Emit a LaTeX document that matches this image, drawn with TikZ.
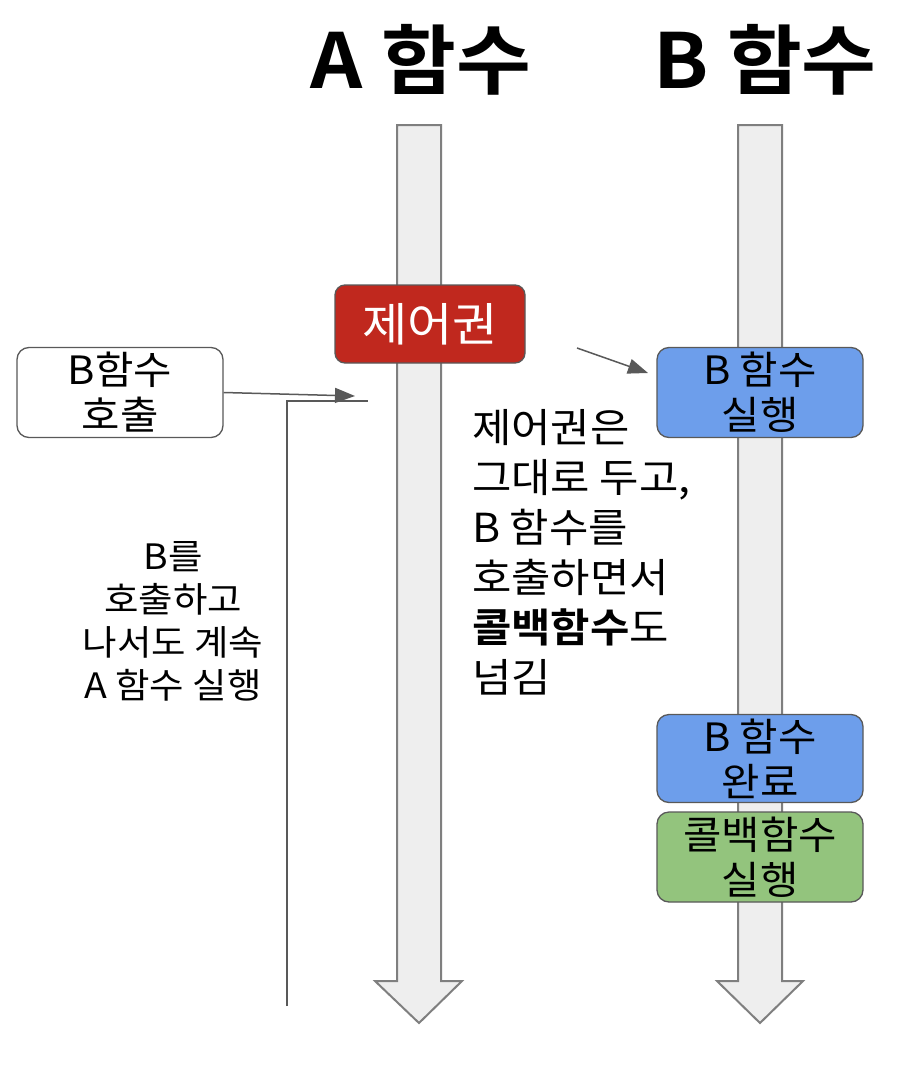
\documentclass[tikz,border=0pt]{standalone}
\usepackage{fontspec}
\setmainfont{Noto Sans CJK KR}[BoldFont={Noto Sans CJK KR Bold}, FakeStretch=1.07]
\usetikzlibrary{arrows.meta}
\definecolor{redbox}{RGB}{192,40,30}
\definecolor{bluebox}{HTML}{6D9EEB}
\definecolor{greenbox}{HTML}{93C47D}
\definecolor{shaft}{HTML}{EEEEEE}
\definecolor{shaftline}{HTML}{7F7F7F}
\definecolor{edge}{HTML}{595959}
\begin{document}
\begin{tikzpicture}[x=1pt,y=-1pt,
  box/.style={draw=edge, line width=1.3pt, rounded corners=12pt, minimum width=206pt,
    minimum height=90pt, inner sep=0pt, align=center, font=\fontsize{39}{45}\selectfont},
  timeline/.style={fill=shaft, draw=shaftline, line width=2pt, line join=miter},
  conn/.style={draw=edge, line width=1.5pt},
  connarrow/.style={conn, -{Triangle[length=20pt,width=15pt]}},
  title/.style={font=\fontsize{76}{76}\selectfont\bfseries, anchor=base, inner sep=0pt},
  para/.style={font=\fontsize{40}{50}\selectfont, anchor=base west, inner sep=0pt},
  side/.style={font=\fontsize{35}{43}\selectfont, anchor=base, inner sep=0pt}]
\useasboundingbox (0,0) rectangle (900,1068);
\fill[white] (0,0) rectangle (900,1068);

% titles
\node[title] (ta) at (421,88) {A 함수};
\node[title] (tb) at (765,88) {B 함수};

% timelines
\draw[timeline] (397,125) -- (441,125) -- (441,981) -- (462,981) -- (419,1023) -- (375,981) -- (397,981) -- cycle;
\draw[timeline] (738,125) -- (782,125) -- (782,981) -- (803,981) -- (760,1023) -- (717,981) -- (738,981) -- cycle;

% boxes
\node[box, fill=redbox, text=white, minimum width=190pt, minimum height=78pt, rounded corners=10pt,
      font=\fontsize{46}{46}\selectfont] (ctrl) at (430,324) {제어권};
\node[box, fill=white] (call) at (120,392.5) {B함수\\호출};
\node[box, fill=bluebox] (bexec) at (760,392.5) {B 함수\\실행};
\node[box, fill=bluebox, minimum height=88pt] (bdone) at (760,758.5) {B 함수\\완료};
\node[box, fill=greenbox] (cb) at (760,857) {콜백함수\\실행};

% connectors
\coordinate (tipA) at (355,396);
\draw[connarrow] (call.east) -- (tipA);
\coordinate (c1) at (287,1006);
\coordinate (c3) at (368,401);
\draw[conn] (c1) |- (c3);
\coordinate (s2) at (577,348);
\coordinate (t2) at (648,373);
\draw[connarrow] (s2) -- (t2);

% paragraph
\node[para] (p1) at (472,442) {제어권은};
\node[para] (p2) at (472,492) {그대로 두고,};
\node[para] (p3) at (472,542) {B 함수를};
\node[para] (p4) at (472,592) {호출하면서};
\node[para] (p5) at (472,642) {{\bfseries 콜백함수}도};
\node[para] (p6) at (472,692) {넘김};

% side text
\node[side] (l1) at (173,569) {B를};
\node[side] (l2) at (173,612) {호출하고};
\node[side] (l3) at (173,655) {나서도 계속};
\node[side] (l4) at (173,698) {A 함수 실행};
\end{tikzpicture}
\end{document}
